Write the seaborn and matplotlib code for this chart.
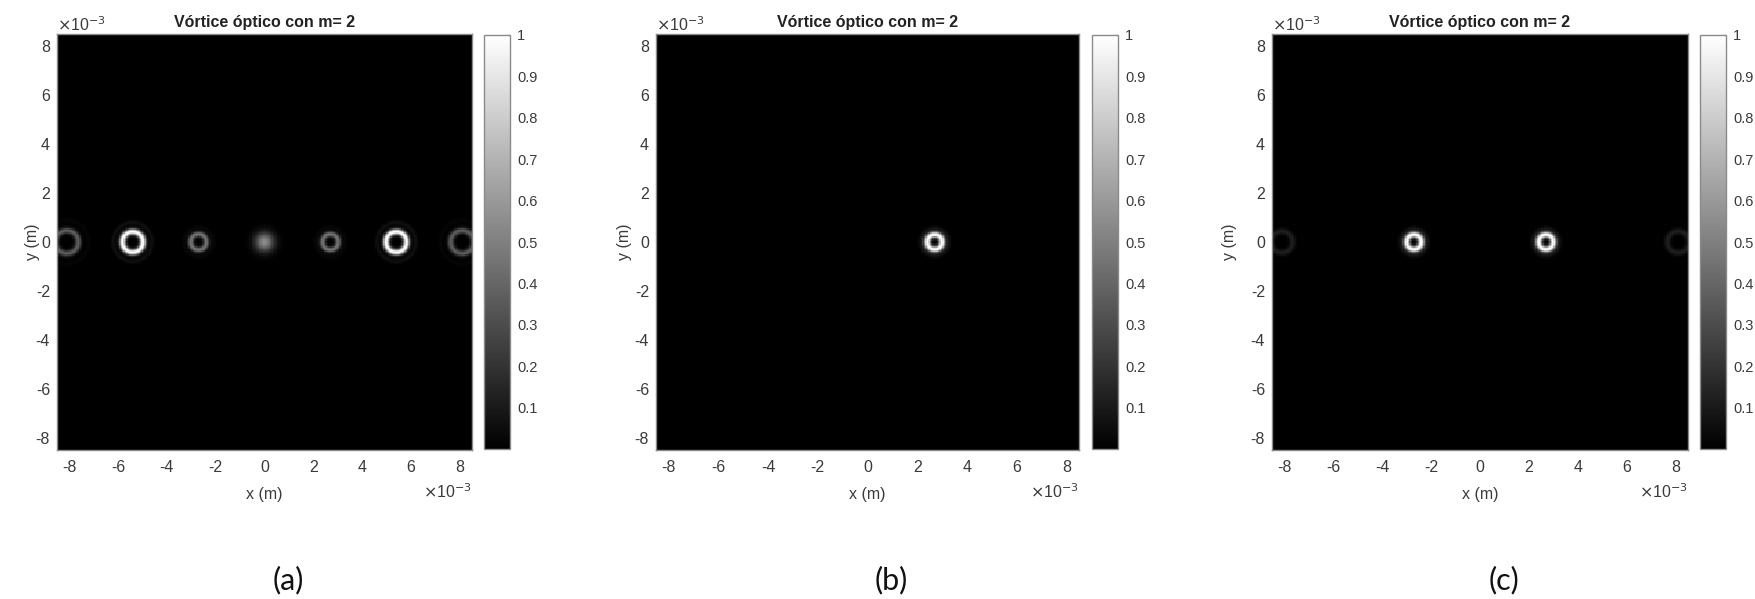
import numpy as np
import matplotlib
matplotlib.use("Agg")
import matplotlib.pyplot as plt
import seaborn as sns

# ---- field parameters (positions, ring radii and widths in mm) ----
half_width_mm = 8.5
n_cells = 300

# (a) full diffraction pattern
a_centers_mm = [-8.1, -5.4, -2.7, 0.0, 2.7, 5.4, 8.1]
a_peaks = [0.36, 1.0, 0.45, 0.55, 0.45, 1.0, 0.36]
a_radii_mm = [0.47, 0.42, 0.32, 0.0, 0.32, 0.42, 0.47]
a_widths_mm = [0.09, 0.09, 0.085, 0.27, 0.085, 0.09, 0.09]

# (b) single vortex
b_centers_mm = [2.7]
b_peaks = [1.0]
b_radii_mm = [0.30]
b_widths_mm = [0.095]

# (c) symmetric pair of vortices
c_centers_mm = [-8.1, -2.7, 2.7, 8.1]
c_peaks = [0.12, 1.0, 1.0, 0.12]
c_radii_mm = [0.44, 0.30, 0.30, 0.44]
c_widths_mm = [0.09, 0.095, 0.095, 0.09]

panel_titles = ["Vórtice óptico con m= 2"] * 3
panel_tags = ["(a)", "(b)", "(c)"]
axis_ticks_mm = [-8, -6, -4, -2, 0, 2, 4, 6, 8]
cbar_ticks = [0.1, 0.2, 0.3, 0.4, 0.5, 0.6, 0.7, 0.8, 0.9, 1.0]
cbar_labels = ["0.1", "0.2", "0.3", "0.4", "0.5", "0.6", "0.7", "0.8", "0.9", "1"]

L = half_width_mm * 1e-3
dx = 2 * L / n_cells
coords = -L + (np.arange(n_cells) + 0.5) * dx
X, Y = np.meshgrid(coords, coords[::-1])  # row 0 is the top of the field


def intensity(centers, peaks, radii, widths):
    """Superpose annular (or spot) intensity lobes, each normalised to its peak."""
    field = np.zeros_like(X)
    for cx, pk, r0, s in zip(centers, peaks, radii, widths):
        r = np.hypot(X - cx * 1e-3, Y) * 1e3
        lobe = np.exp(-0.5 * ((r - r0) / s) ** 2)
        if r0 > 0:
            # faint secondary diffraction ring
            lobe += 0.06 * np.exp(-0.5 * ((r - 1.9 * r0) / (0.7 * s)) ** 2)
        field += pk * lobe
    return np.clip(field, 0, 1)


panels = [
    intensity(a_centers_mm, a_peaks, a_radii_mm, a_widths_mm),
    intensity(b_centers_mm, b_peaks, b_radii_mm, b_widths_mm),
    intensity(c_centers_mm, c_peaks, c_radii_mm, c_widths_mm),
]

sns.set_style("white")
plt.rcParams["font.family"] = ["Liberation Sans", "DejaVu Sans"]
plt.rcParams["axes.unicode_minus"] = False

W, H = 1756, 599
fig = plt.figure(figsize=(W / 100, H / 100), dpi=100)


def rect(x0, y0, x1, y1):
    return [x0 / W, 1 - y1 / H, (x1 - x0) / W, (y1 - y0) / H]


# pixel boxes: axes (x0, y0, x1, y1), colorbar (x0, y0, x1, y1), y-label centre x
layout = [
    ((57, 34, 472, 450), (484, 35, 510, 449), 40),
    ((656, 34, 1079, 450), (1092, 35, 1118, 449), 632),
    ((1272, 34, 1688, 450), (1700, 35, 1726, 449), 1237),
]

text_col = "#3a3a3a"
edge_col = "#8a8a8a"

for Z, title, tag, (abox, cbox, ylab_x) in zip(panels, panel_titles, panel_tags, layout):
    ax = fig.add_axes(rect(*abox))
    cax = fig.add_axes(rect(*cbox))
    sns.heatmap(Z, ax=ax, cbar_ax=cax, cmap="gray", vmin=0, vmax=1,
                xticklabels=False, yticklabels=False, square=False,
                rasterized=True)

    xt = [(t * 1e-3 + L) / dx for t in axis_ticks_mm]
    yt = [(L - t * 1e-3) / dx for t in axis_ticks_mm]
    ax.set_xticks(xt)
    ax.set_xticklabels([str(t) for t in axis_ticks_mm], rotation=0)
    ax.set_yticks(yt)
    ax.set_yticklabels([str(t) for t in axis_ticks_mm], rotation=0)
    ax.tick_params(axis="both", direction="in", length=4, width=0.8,
                   color="#9a9a9a", labelcolor=text_col, labelsize=11.5,
                   bottom=True, top=True, left=True, right=True)
    ax.tick_params(axis="x", pad=7)
    ax.tick_params(axis="y", pad=5)
    for s in ax.spines.values():
        s.set_visible(True)
        s.set_color(edge_col)
        s.set_linewidth(1.0)

    x0, y0, x1, y1 = abox
    ax.set_xlabel("x (m)", fontsize=11.5, color=text_col, labelpad=9)
    ax.set_ylabel("y (m)", fontsize=11.5, color=text_col)
    ax.yaxis.set_label_coords((ylab_x - x0) / (x1 - x0), 0.5)
    ax.set_title(title, fontsize=11.5, fontweight="bold", color="#222222", pad=5)

    fig.text(x0 / W, 1 - 31 / H, r"$\times$10$^{-3}$", fontsize=11.5,
             color=text_col, ha="left", va="baseline")
    fig.text(x1 / W, 1 - 498 / H, r"$\times$10$^{-3}$", fontsize=11.5,
             color=text_col, ha="right", va="baseline")

    cb = ax.collections[0].colorbar
    cb.set_ticks(cbar_ticks)
    cb.set_ticklabels(cbar_labels)
    cb.outline.set_edgecolor(edge_col)
    cb.outline.set_linewidth(1.0)
    cax.tick_params(direction="in", length=4, width=0.8, color="#555555",
                    labelcolor=text_col, labelsize=10.5, pad=5)

    fig.text(((x0 + x1) / 2 + 24) / W, 1 - 580 / H, tag, fontsize=22,
             family=["Lato", "DejaVu Sans"], color="#111111",
             ha="center", va="center")

fig.savefig("out.png", dpi=100, facecolor="white")
